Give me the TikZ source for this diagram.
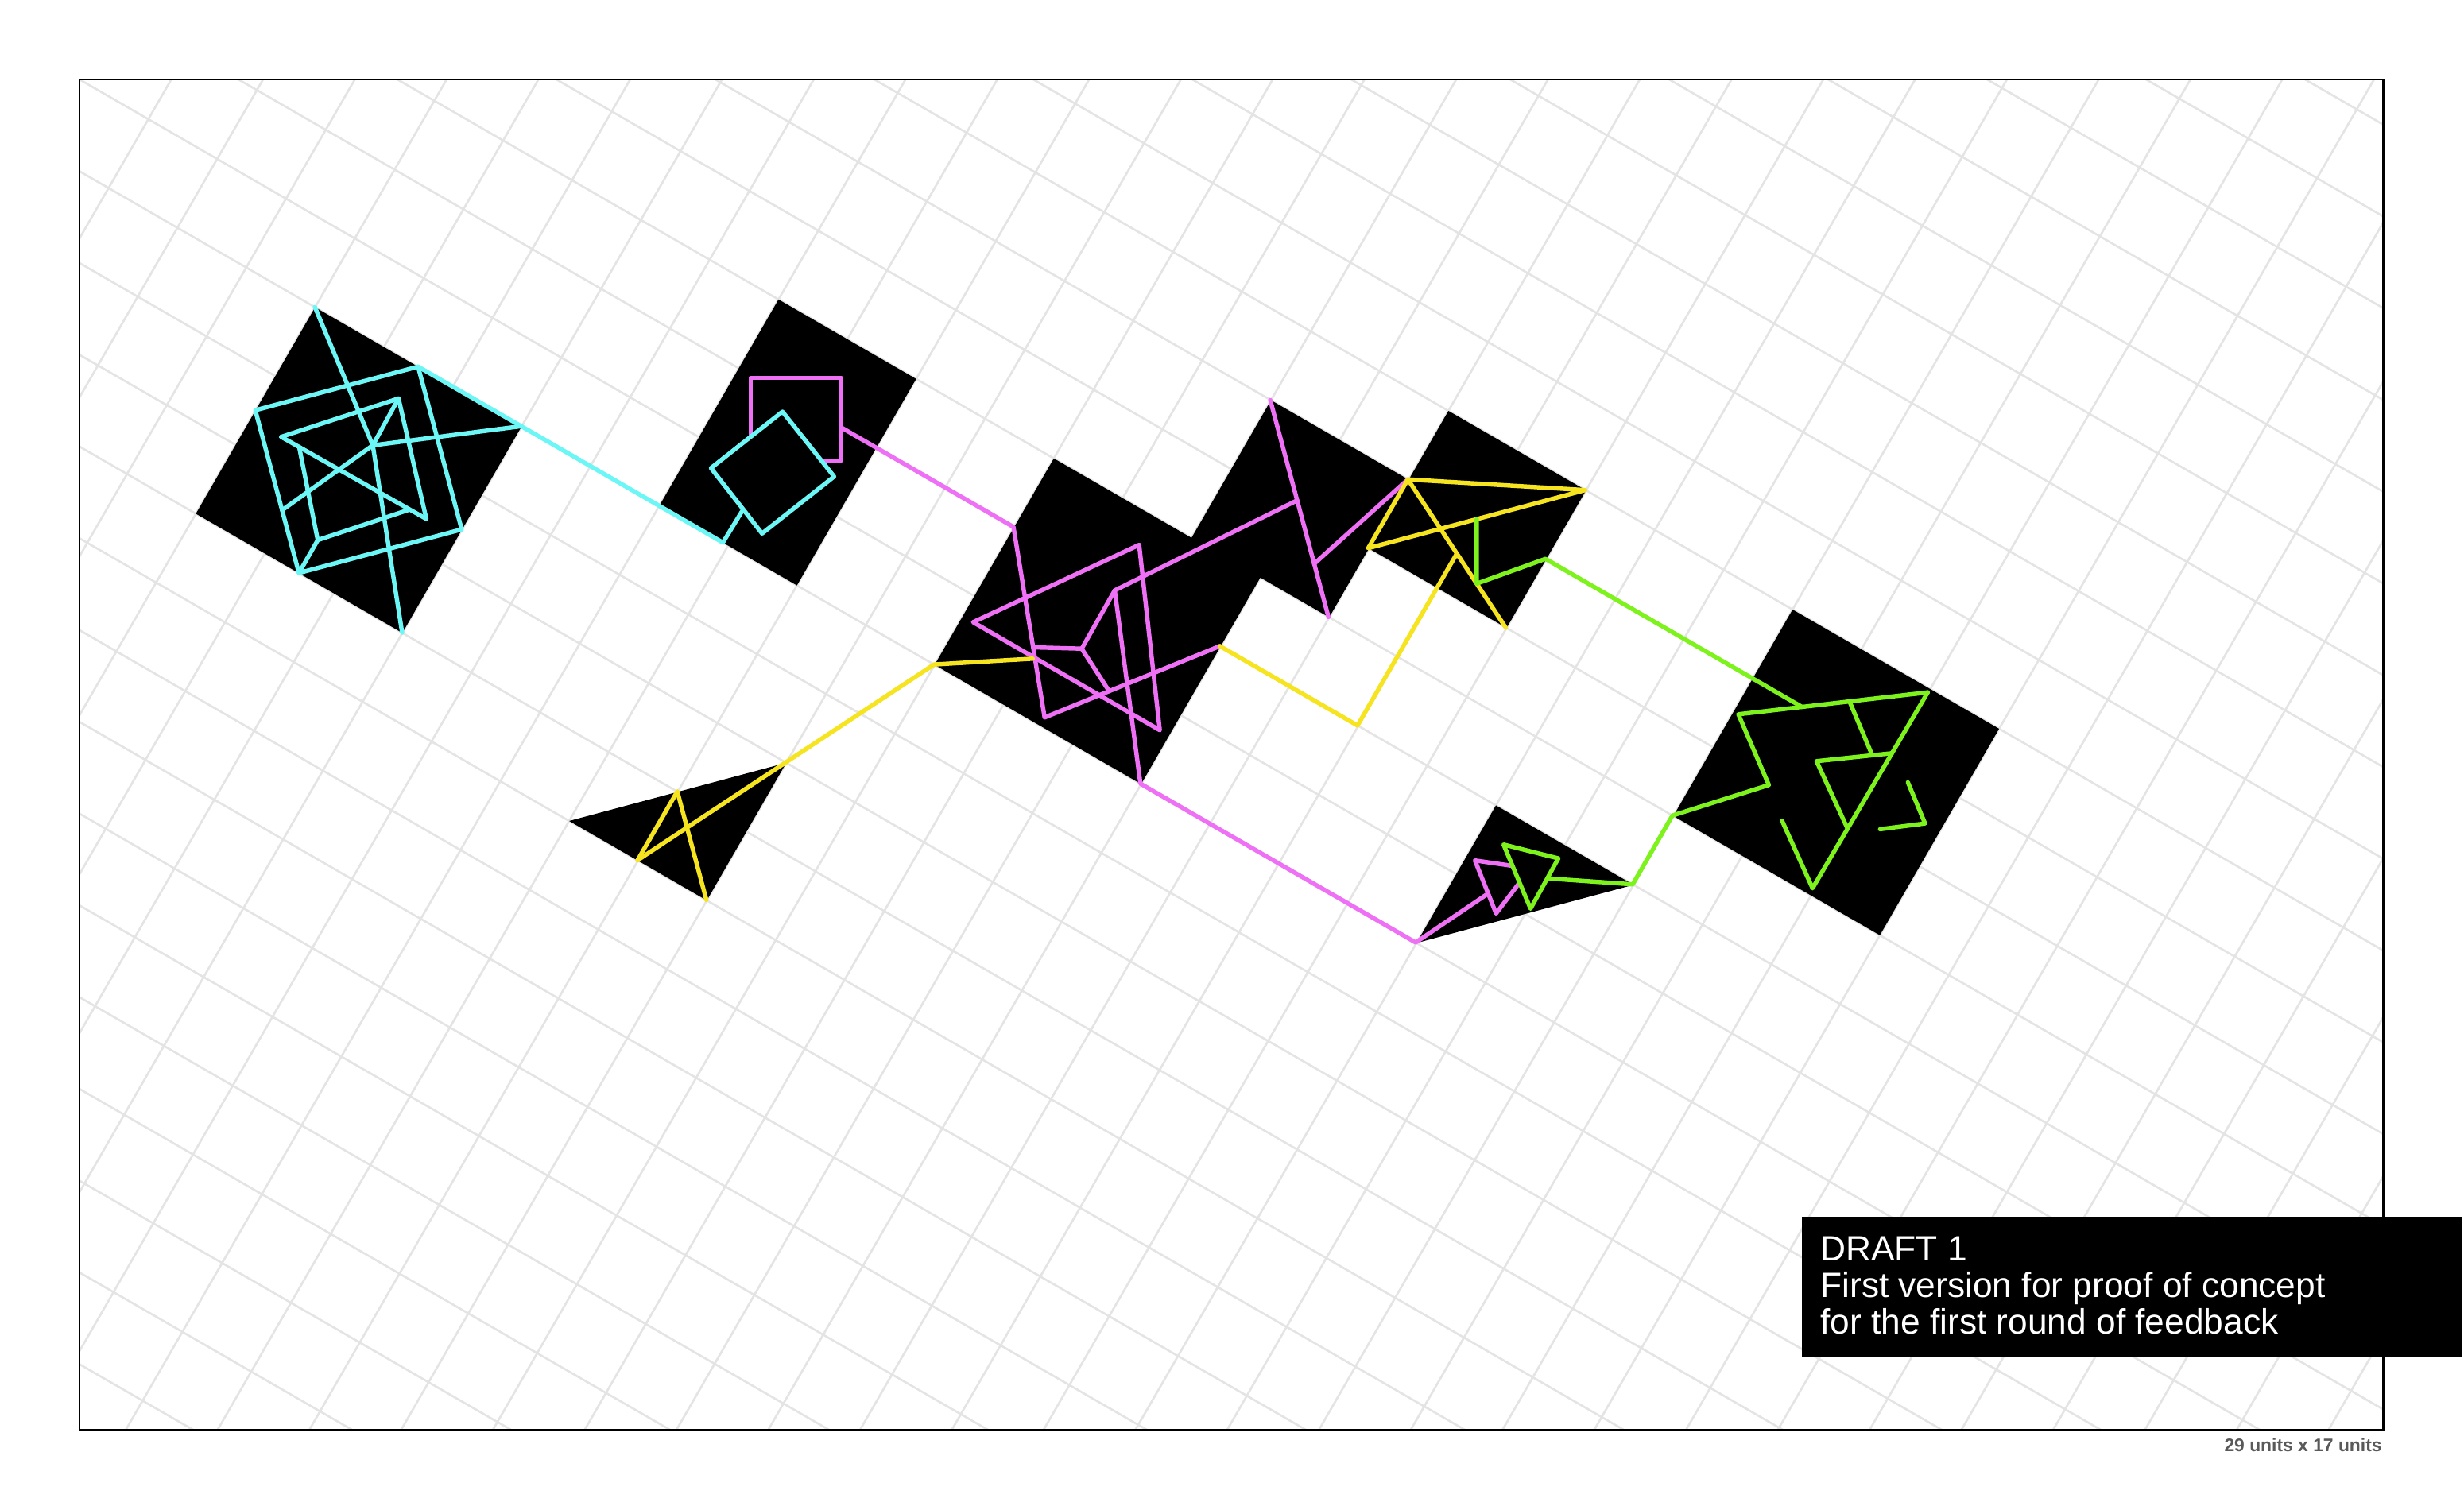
\documentclass[tikz,border=0pt]{standalone}
\usepackage{fontspec}
\setmainfont{Liberation Sans}
\begin{document}
\begin{tikzpicture}
\definecolor{gridgray}{HTML}{E4E4E4}
\definecolor{cyanl}{HTML}{6CF6F6}
\definecolor{magl}{HTML}{EE70F5}
\definecolor{yell}{HTML}{F5E41F}
\definecolor{grnl}{HTML}{7DF21C}
\definecolor{unitgray}{HTML}{595959}
\tikzset{
 gridline/.style={draw=gridgray, line width=0.75pt},
 colline/.style={line width=1.55pt, line cap=round, line join=round},
 cl/.style={colline, draw=cyanl},
 ml/.style={colline, draw=magl},
 yl/.style={colline, draw=yell},
 gl/.style={colline, draw=grnl},
 frameline/.style={draw=black, line width=0.8pt},
 note/.style={text=white, font=\fontsize{12.6pt}{13pt}\selectfont, inner sep=0pt, anchor=base west},
 units/.style={text=unitgray, font=\bfseries\fontsize{6.5pt}{7pt}\selectfont, inner sep=0pt, anchor=base east}
}
\useasboundingbox (0,0) rectangle (31,-19);
\fill[white] (0,0) rectangle (31,-19);
% grid
\begin{scope}
\clip (1,-1) rectangle (30,-18);
\begin{scope}[shift={(1,-1)}, x={(0.866025cm,-0.5cm)}, y={(-0.5cm,-0.866025cm)}]
\foreach \i in {-1,...,35} \draw[gridline] (\i,-17) -- (\i,17);
\foreach \j in {-16,...,16} \draw[gridline] (-2,\j) -- (36,\j);
\end{scope}
\end{scope}
% black shapes
\begin{scope}[shift={(1,-1)}, x={(0.866025cm,-0.5cm)}, y={(-0.5cm,-0.866025cm)}]
\fill[black] (4,1) -- (7,1) -- (7,4) -- (4,4) -- cycle;
\fill[black] (9,-2) -- (11,-2) -- (11,1) -- (9,1) -- cycle;
\fill[black] (13,1) -- (13,-2) -- (15,-2) -- (15,-4) -- (17,-4) -- (17,-5) -- (19,-5) -- (19,-3) -- (17,-3) -- (17,-2) -- (16,-2) -- (16,1) -- cycle;
\fill[black] (10,5) -- (12,3) -- (12,5) -- cycle;
\fill[black] (20,1) -- (20,-1) -- (22,-1) -- cycle;
\fill[black] (22,-5) -- (25,-5) -- (25,-2) -- (22,-2) -- cycle;
\end{scope}
% coloured lines (pixel coordinates)
\begin{scope}[x=0.01cm, y=-0.01cm]
% cyan, first block
\draw[cl] (526.3,461.6) -- (581.2,666.5) -- (376.3,721.4) -- (321.4,516.5) -- cycle;
\draw[cl] (396.4,386.6) -- (469.3,560.7) -- (506.2,796.4);
\draw[cl] (656.2,536.6) -- (469.3,560.7);
\draw[cl] (355.1,642.3) -- (469.3,560.7) -- (501.7,501.7);
\draw[cl] (354,550) -- (501.7,501.7) -- (536.7,653.3);
\draw[cl] (354,550) -- (536.7,653.3);
\draw[cl] (515,641.7) -- (400,680) -- (376.7,563.3);
\draw[cl] (400,680) -- (376.3,721.4);
\draw[cl] (526.3,461.6) -- (910,683.1) -- (940,634);
% magenta, second block and connector
\draw[ml] (945,476) rectangle (1059.3,580);
\draw[ml] (1059.3,538.4) -- (1275.8,663.4) -- (1315,903.3) -- (1535.6,813.4);
\filldraw[cl, fill=black] (985,518.3) -- (1050,600) -- (959.3,671.7) -- (895,589.3) -- cycle;
% magenta, middle block
\draw[ml] (1225,783.3) -- (1434,686) -- (1460,919.3) -- cycle;
\draw[ml] (1301,815) -- (1361.7,816.7) -- (1403.3,743.3) -- (1632.9,630);
\draw[ml] (1361.7,816.7) -- (1395,868.3);
\draw[ml] (1403.3,743.3) -- (1435.6,986.6) -- (1782.1,1186.6) -- (1871.7,1126);
\draw[ml] (1599,503.6) -- (1672.3,776.8);
\draw[ml] (1654.2,710) -- (1772.3,603.6);
% yellow
\draw[yl] (802.6,1083) -- (852.6,996.4) -- (889.2,1133);
\draw[yl] (802.6,1083) -- (1175.8,836.6) -- (1300,829.3);
\draw[yl] (1535.6,813.4) -- (1708.9,913.4) -- (1833.9,696.9);
\draw[yl] (1772.3,603.6) -- (1995.5,617) -- (1722.3,690.2) -- cycle;
\draw[yl] (1772.3,603.6) -- (1895.5,790.2);
% green
\draw[gl] (1858.9,653.6) -- (1858.9,734.8) -- (1945.5,703.6) -- (2268.5,890.1);
\draw[gl] (2426.7,871.7) -- (2188.3,899.3) -- (2226.7,988.3) -- (2105.3,1026.8) -- (2055.3,1113.4) -- (1950,1106);
\draw[gl] (2426.7,871.7) -- (2281.7,1118.3) -- (2243.3,1033.3);
\draw[gl] (2328.3,883.3) -- (2356.7,950.5);
\draw[gl] (2381.7,948.3) -- (2286.7,958.3) -- (2325.8,1043.3);
\draw[gl] (2401.7,985) -- (2423.3,1036.7) -- (2366.7,1044);
% small triangles in the lower block
\draw[ml] (1856.7,1083.3) -- (1926.4,1093.4) -- (1883.3,1150) -- cycle;
\filldraw[gl, fill=black] (1892.7,1063.3) -- (1961.7,1080.7) -- (1926.7,1144) -- cycle;
% frame, note box, texts
\draw[frameline] (100,100) rectangle (3000,1800);
\fill[black] (2268,1532) rectangle (3100,1708);
\node[note] (l1) at (2291,1587) {DRAFT 1};
\node[note] (l2) at (2291,1633) {First version for proof of concept};
\node[note] (l3) at (2291,1679) {for the first round of feedback};
\node[units] (u) at (2999,1828) {29 units x 17 units};
\end{scope}
\end{tikzpicture}
\end{document}
